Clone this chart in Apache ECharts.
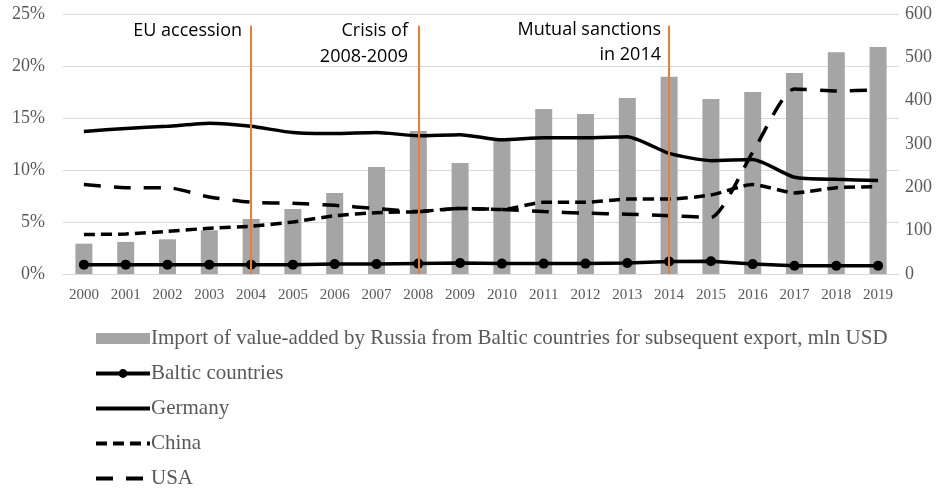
<!DOCTYPE html>
<html>
<head>
<meta charset="utf-8">
<script src="https://cdn.jsdelivr.net/npm/echarts@6/dist/echarts.min.js"></script>
<style>
html,body{margin:0;padding:0;background:#fff;}
#main{width:952px;height:488px;}
</style>
</head>
<body>
<div id="main"></div>
<script>
var years = ['2000','2001','2002','2003','2004','2005','2006','2007','2008','2009','2010','2011','2012','2013','2014','2015','2016','2017','2018','2019'];
var importVA = [70,74,80,101,127,150,187,247,330,256,310,381,369,406,455,404,420,464,512,524];
var baltic = [0.9,0.9,0.9,0.9,0.9,0.9,0.95,0.95,1.0,1.05,1.0,1.0,1.0,1.05,1.2,1.22,0.95,0.8,0.8,0.8];
var germany = [13.7,14.0,14.2,14.5,14.2,13.6,13.5,13.6,13.3,13.4,12.9,13.1,13.1,13.2,11.6,10.9,11.0,9.3,9.1,9.0];
var china = [3.8,3.85,4.1,4.4,4.6,5.0,5.6,5.9,6.0,6.3,6.2,6.9,6.9,7.2,7.2,7.6,8.6,7.8,8.3,8.4];
var usa = [8.6,8.3,8.3,7.4,6.9,6.8,6.6,6.3,6.0,6.3,6.2,6.0,5.85,5.75,5.6,5.45,11.7,17.8,17.6,17.7];
var eventYears = ['2004','2008','2014'];
var leftTicks = {min:0, max:25, interval:5};
var rightTicks = {min:0, max:600, interval:100};
var names = ['Import of value-added by Russia from Baltic countries for subsequent export, mln USD','Baltic countries','Germany','China','USA'];

var serif = '"Liberation Serif", "Times New Roman", serif';
var sans = '"Open Sans", "Liberation Sans", sans-serif';
var chart = echarts.init(document.getElementById('main'));
var markData = eventYears.map(function(y){ return [{xAxis:y, yAxis:23.9},{xAxis:y, yAxis:0}]; });
var noSym = {opacity:0};

chart.setOption({
  animation:false,
  grid:{left:63, right:53, top:14, bottom:214},
  legend:{
    orient:'vertical', left:89, top:323, height:180, itemWidth:54, itemHeight:11, itemGap:14,
    lineStyle:{width:4},
    textStyle:{fontFamily:serif, fontSize:21, lineHeight:21, color:'#595959', padding:[0,0,0,-4]},
    data:[{name:names[0], icon:'rect'}, names[1],
          {name:names[2], itemStyle:noSym}, {name:names[3], itemStyle:noSym}, {name:names[4], itemStyle:noSym}]
  },
  xAxis:{
    type:'category', data:years, boundaryGap:true,
    axisLine:{lineStyle:{color:'#D9D9D9', width:1}},
    axisTick:{show:false},
    axisLabel:{fontFamily:serif, fontSize:15, color:'#595959', margin:14}
  },
  yAxis:[
    {type:'value', min:leftTicks.min, max:leftTicks.max, interval:leftTicks.interval,
     axisLabel:{formatter:'{value}%', fontFamily:serif, fontSize:18, color:'#595959', margin:18},
     splitLine:{lineStyle:{color:'#D9D9D9', width:1}}, axisLine:{show:false}, axisTick:{show:false}},
    {type:'value', min:rightTicks.min, max:rightTicks.max, interval:rightTicks.interval,
     axisLabel:{fontFamily:serif, fontSize:18, color:'#595959', margin:6},
     splitLine:{show:false}, axisLine:{show:false}, axisTick:{show:false}}
  ],
  series:[
    {name:names[0], type:'bar', yAxisIndex:1, data:importVA, barWidth:17, itemStyle:{color:'#A5A5A5'}, z:1},
    {name:names[1], type:'line', yAxisIndex:0, data:baltic, symbol:'circle', symbolSize:10,
     lineStyle:{color:'#000', width:3.5}, itemStyle:{color:'#000'}, z:3,
     markLine:{silent:true, symbol:'none', label:{show:false}, lineStyle:{color:'#ED7D31', width:2, type:'solid'}, data:markData}},
    {name:names[2], type:'line', yAxisIndex:0, data:germany, symbol:'none', smooth:0.2,
     lineStyle:{color:'#000', width:3.5}, itemStyle:{color:'#000'}, z:2},
    {name:names[3], type:'line', yAxisIndex:0, data:china, symbol:'none', smooth:0.2,
     lineStyle:{color:'#000', width:3.5, type:[11,6]}, itemStyle:{color:'#000'}, z:2},
    {name:names[4], type:'line', yAxisIndex:0, data:usa, symbol:'none', smooth:0.2,
     lineStyle:{color:'#000', width:3.5, type:[17,13]}, itemStyle:{color:'#000'}, z:2}
  ],
  graphic:[
    {type:'text', x:242, y:22, style:{text:'EU accession', font:'18px '+sans, fill:'#000', align:'right', verticalAlign:'top'}},
    {type:'text', x:408, y:18, style:{text:'Crisis of\n2008-2009', font:'18px '+sans, fill:'#000', align:'right', verticalAlign:'top', lineHeight:26}},
    {type:'text', x:661, y:17, style:{text:'Mutual sanctions\nin 2014', font:'18px '+sans, fill:'#000', align:'right', verticalAlign:'top', lineHeight:25}}
  ]
});
</script>
</body>
</html>
